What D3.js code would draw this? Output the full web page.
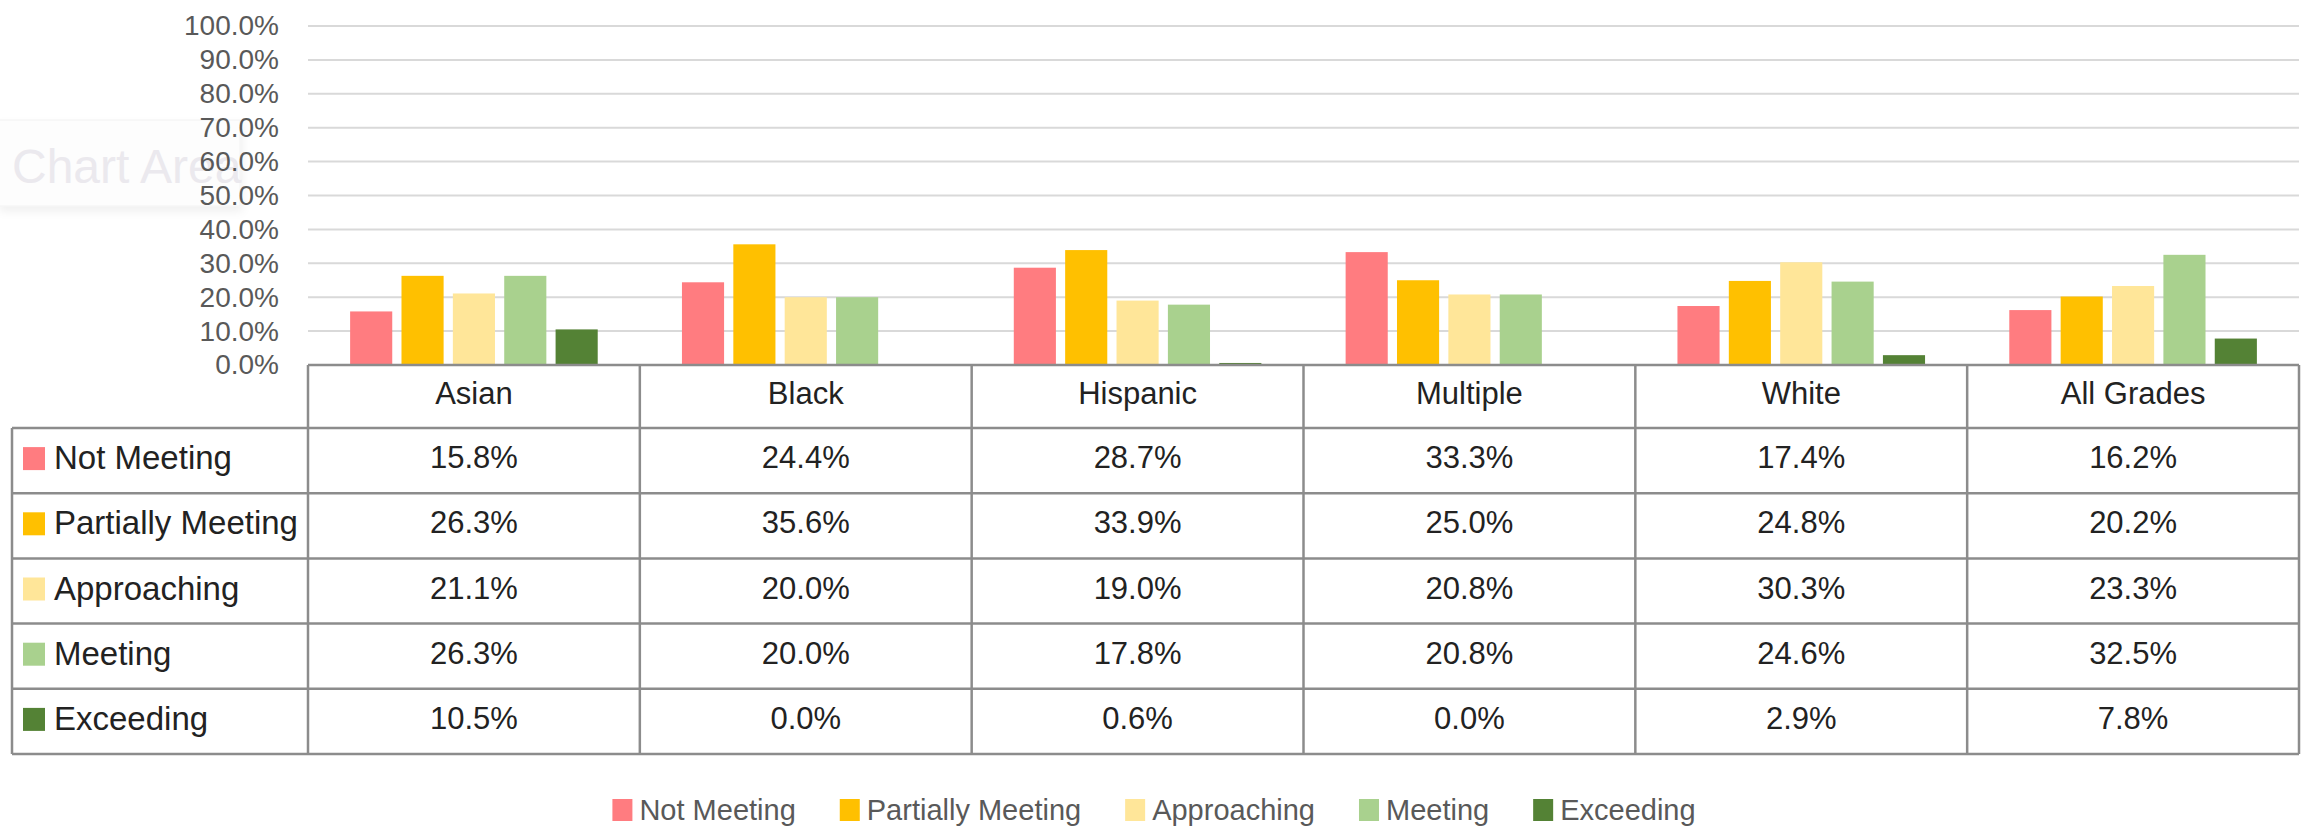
<!DOCTYPE html>
<html>
<head>
<meta charset="utf-8">
<script src="https://cdn.jsdelivr.net/npm/d3@7"></script>
<style>
  html, body { margin: 0; padding: 0; background: #ffffff; }
  svg { display: block; }
  text { font-family: "Liberation Sans", Arial, sans-serif; }
</style>
</head>
<body>
<svg id="chart" width="2306" height="828"></svg>
<script>
// ---------- DATA ----------
const categories = ["Asian", "Black", "Hispanic", "Multiple", "White", "All Grades"];
const seriesNames = ["Not Meeting", "Partially Meeting", "Approaching", "Meeting", "Exceeding"];
const notMeeting       = [0.158, 0.244, 0.287, 0.333, 0.174, 0.162];
const partiallyMeeting = [0.263, 0.356, 0.339, 0.250, 0.248, 0.202];
const approaching      = [0.211, 0.200, 0.190, 0.208, 0.303, 0.233];
const meeting          = [0.263, 0.200, 0.178, 0.208, 0.246, 0.325];
const exceeding        = [0.105, 0.000, 0.006, 0.000, 0.029, 0.078];
const seriesColors = ["#FF7C80", "#FFC000", "#FFE699", "#A9D18E", "#548235"];
const yTicks = [0, 0.1, 0.2, 0.3, 0.4, 0.5, 0.6, 0.7, 0.8, 0.9, 1.0];

const seriesValues = [notMeeting, partiallyMeeting, approaching, meeting, exceeding];
const series = seriesNames.map((name, i) => ({ name, color: seriesColors[i], values: seriesValues[i] }));

// ---------- LAYOUT ----------
const svg = d3.select("#chart");
const plotLeft = 308, plotRight = 2299;
const plotTop = 26, plotBottom = 365;
const tableLeft = 12;
const headerBottom = 428;
const tableBottom = 754;
const borderColor = "#8c8c8c";

const x0 = d3.scaleBand().domain(categories).range([plotLeft, plotRight]).paddingInner(0).paddingOuter(0);
const x1 = d3.scaleBand().domain(seriesNames).range([0, x0.bandwidth()]).paddingInner(0.18).paddingOuter(0.82);
const y = d3.scaleLinear().domain([0, 1]).range([plotBottom, plotTop]);
const rowY = d3.scaleBand().domain(seriesNames).range([headerBottom, tableBottom]);

// ---------- "Chart Area" tooltip (faint, beneath axis labels) ----------
const defs = svg.append("defs");
const f = defs.append("filter").attr("id", "shadow").attr("x", "-10%").attr("y", "-20%").attr("width", "130%").attr("height", "160%");
f.append("feDropShadow").attr("dx", 2).attr("dy", 5).attr("stdDeviation", 4).attr("flood-color", "#000").attr("flood-opacity", 0.06);
const tip = svg.append("g");
tip.append("rect").attr("x", -2).attr("y", 120).attr("width", 242).attr("height", 86)
  .attr("fill", "#fdfdfd").attr("stroke", "#f2f2f2").attr("filter", "url(#shadow)");
tip.append("text").attr("x", 12).attr("y", 183).attr("font-size", 48)
  .attr("fill", "#ebe9ee").text("Chart Area");

// ---------- gridlines ----------
svg.append("g").selectAll("line").data(yTicks.filter(d => d > 0)).join("line")
  .attr("x1", plotLeft).attr("x2", plotRight)
  .attr("y1", d => y(d)).attr("y2", d => y(d))
  .attr("stroke", "#d9d9d9").attr("stroke-width", 2);

// ---------- y axis ----------
const yAxis = d3.axisLeft(y).tickValues(yTicks).tickFormat(d3.format(".1%")).tickSize(0).tickPadding(29);
const gy = svg.append("g").attr("transform", `translate(${plotLeft},0)`).call(yAxis);
gy.select(".domain").remove();
gy.selectAll("text").attr("font-size", 28).attr("fill", "#595959")
  .attr("font-family", "'Liberation Sans', Arial, sans-serif");

// ---------- bars ----------
const gBars = svg.append("g");
categories.forEach((cat, ci) => {
  gBars.append("g").attr("transform", `translate(${x0(cat)},0)`)
    .selectAll("rect").data(series).join("rect")
    .attr("x", s => x1(s.name))
    .attr("width", x1.bandwidth())
    .attr("y", s => y(s.values[ci]))
    .attr("height", s => y(0) - y(s.values[ci]))
    .attr("fill", s => s.color);
});

// ---------- data table ----------
const gT = svg.append("g");
const lineAttrs = sel => sel.attr("stroke", borderColor).attr("stroke-width", 2.5).attr("fill", "none");

// header row text
gT.selectAll("text.hdr").data(categories).join("text").attr("class", "hdr")
  .attr("x", d => x0(d) + x0.bandwidth() / 2)
  .attr("y", (plotBottom + headerBottom) / 2 - 3)
  .attr("dominant-baseline", "central").attr("text-anchor", "middle")
  .attr("font-size", 31).attr("fill", "#222").text(d => d);

// row labels + keys + values
series.forEach(s => {
  const ry = rowY(s.name), rh = rowY.bandwidth(), cy = ry + rh / 2 - 2;
  gT.append("rect").attr("x", 23).attr("y", cy - 11.5).attr("width", 22).attr("height", 23).attr("fill", s.color);
  gT.append("text").attr("x", 54).attr("y", cy - 1).attr("dominant-baseline", "central")
    .attr("font-size", 33).attr("fill", "#222").text(s.name);
  gT.append("g").selectAll("text").data(categories).join("text")
    .attr("x", d => x0(d) + x0.bandwidth() / 2)
    .attr("y", cy - 1)
    .attr("dominant-baseline", "central").attr("text-anchor", "middle")
    .attr("font-size", 31).attr("fill", "#222")
    .text((d, i) => d3.format(".1%")(s.values[i]));
});

// table lines
// top line (axis) across plot
gT.append("line").attr("x1", plotLeft).attr("x2", plotRight).attr("y1", plotBottom).attr("y2", plotBottom).call(lineAttrs);
// horizontal row lines
const hLines = [headerBottom, ...seriesNames.map(n => rowY(n) + rowY.bandwidth())];
gT.append("g").selectAll("line").data(hLines).join("line")
  .attr("x1", tableLeft).attr("x2", plotRight).attr("y1", d => d).attr("y2", d => d).call(lineAttrs);
// vertical lines for category columns
const vLines = [...categories.map(c => x0(c)), plotRight];
gT.append("g").selectAll("line").data(vLines).join("line")
  .attr("x1", d => d).attr("x2", d => d).attr("y1", plotBottom).attr("y2", tableBottom).call(lineAttrs);
// left edge of row label column
gT.append("line").attr("x1", tableLeft).attr("x2", tableLeft).attr("y1", headerBottom).attr("y2", tableBottom).call(lineAttrs);

// ---------- legend ----------
const legend = svg.append("g");
const legendY = 810;
let cursor = 0;
const items = [];
series.forEach(s => {
  const g = legend.append("g").attr("transform", `translate(${cursor},0)`);
  g.append("rect").attr("x", 0).attr("y", legendY - 11).attr("width", 20).attr("height", 22).attr("fill", s.color);
  const t = g.append("text").attr("x", 27).attr("y", legendY).attr("dominant-baseline", "central")
    .attr("font-size", 29).attr("fill", "#595959").text(s.name);
  const w = t.node().getComputedTextLength();
  cursor += 27 + w + 44;
});
const legendWidth = cursor - 44;
legend.attr("transform", `translate(${(2306 - legendWidth) / 2 + 1},0)`);
</script>
</body>
</html>
